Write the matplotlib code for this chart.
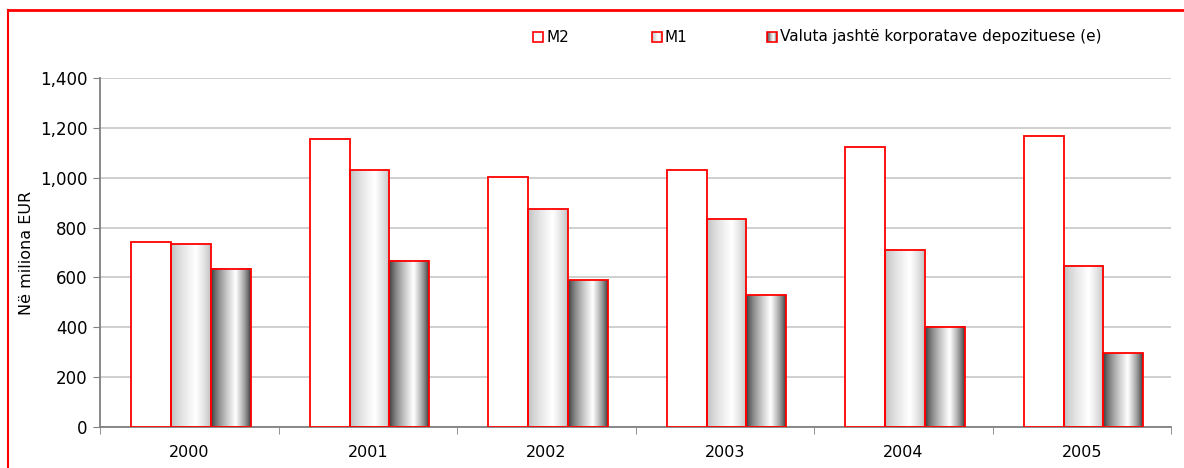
import numpy as np
import matplotlib
matplotlib.use("Agg")
import matplotlib.pyplot as plt
from matplotlib.lines import Line2D
from matplotlib.patches import Rectangle

years = ["2000", "2001", "2002", "2003", "2004", "2005"]
m2 = [741, 1155, 1004, 1030, 1124, 1167]
m1 = [734, 1030, 873, 833, 711, 646]
valuta = [635, 666, 588, 529, 402, 296]
series_labels = ["M2", "M1", "Valuta jashtë korporatave depozituese (e)"]
ylabel = "Në miliona EUR"
yticks = [0, 200, 400, 600, 800, 1000, 1200, 1400]

plt.rcParams['font.family'] = ['DejaVu Sans']
W, H = 1184, 468
fig = plt.figure(figsize=(W / 100, H / 100), dpi=100)

# red frame (top and left)
fig.add_artist(Line2D([8 / W, 8 / W], [0, 1 - 10 / H], color='red', lw=1.5, transform=fig.transFigure))
fig.add_artist(Line2D([8 / W, 1], [1 - 10 / H, 1 - 10 / H], color='red', lw=2, transform=fig.transFigure))

ax = fig.add_axes([100 / W, 1 - 427 / H, (1171 - 100) / W, (427 - 78) / H])
n = len(years)
x = np.arange(n) + 0.01
bw = 0.223

def gradient(dark, light=1.0, peak=0.62):
    t = np.linspace(0, 1, 64)
    v = np.where(t < peak, dark + (light - dark) * (t / peak) ** 0.7,
                 dark + (light - dark) * ((1 - t) / (1 - peak)) ** 0.7)
    return v

g_m1 = gradient(0.74)
g_val = gradient(0.2)

def grad_bar(xc, h, g):
    img = np.tile(g, (2, 1))
    ax.imshow(img, cmap='gray', vmin=0, vmax=1, aspect='auto', interpolation='bilinear',
              extent=(xc - bw / 2, xc + bw / 2, 0, h), zorder=2)

ax.bar(x - bw, m2, bw, color='white', edgecolor='red', lw=1.3, zorder=3)
for xi, h in zip(x, m1):
    grad_bar(xi, h, g_m1)
ax.bar(x, m1, bw, color='none', edgecolor='red', lw=1.3, zorder=3)
for xi, h in zip(x + bw, valuta):
    grad_bar(xi, h, g_val)
ax.bar(x + bw, valuta, bw, color='none', edgecolor='red', lw=1.3, zorder=3)

ax.set_xlim(-0.5, n - 0.5)
ax.set_ylim(0, 1400)
ax.set_yticks(yticks)
ax.set_yticklabels([f"{v:,}" for v in yticks], fontsize=12)
ax.set_xticks(np.arange(n))
ax.set_xticklabels(years, fontsize=11.5)
ax.tick_params(axis='x', length=0, pad=13)
ax.set_xticks(np.arange(n + 1) - 0.5, minor=True)
ax.tick_params(axis='x', which='minor', length=5, color='#808080', direction='out')
ax.tick_params(axis='y', length=5, color='#808080', direction='out', pad=4)
ax.set_ylabel(ylabel, fontsize=11.5)
ax.yaxis.set_label_coords(-0.062, 0.5)
ax.grid(axis='y', color='#cccccc', lw=1.3, zorder=0)
ax.set_axisbelow(True)
for s in ['top', 'right']:
    ax.spines[s].set_visible(False)
for s in ['left', 'bottom']:
    ax.spines[s].set_color('#808080')
    ax.spines[s].set_linewidth(1.3)

# legend (drawn in figure pixel coordinates)
g_m2 = np.ones(8)
leg_pos = [(533, series_labels[0], g_m2), (652, series_labels[1], g_m1[::4]), (767, series_labels[2], g_val[::4])]
for px, lab, g in leg_pos:
    k = len(g)
    by, bwid, bh = 32, 10, 10
    for i in range(k):
        fig.add_artist(Rectangle(((px + bwid * i / k) / W, 1 - (by + bh) / H), (bwid / k + 0.3) / W, bh / H,
                                 facecolor=str(g[i]), edgecolor='none', transform=fig.transFigure))
    fig.add_artist(Rectangle((px / W, 1 - (by + bh) / H), bwid / W, bh / H, facecolor='none',
                             edgecolor='red', lw=1.2, transform=fig.transFigure))
    fig.text((px + 13) / W, 1 - (by + bh / 2) / H, lab, fontsize=11, va='center', ha='left')

fig.savefig("out.png", dpi=100)
